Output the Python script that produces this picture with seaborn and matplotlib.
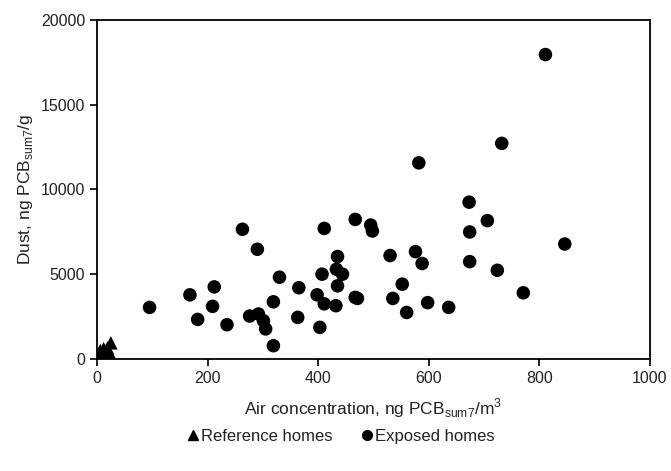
import pandas as pd
import numpy as np
import seaborn as sns
import matplotlib.pyplot as plt

# exposed homes (air ng/m3, dust ng/g)
exp_air = [95, 168, 182, 212, 209, 235, 263, 290, 276, 292, 301, 305, 319, 319, 330,
           363, 365, 398, 403, 407, 411, 411, 432, 435, 435, 433, 444, 467, 471, 467,
           495, 498, 530, 535, 552, 560, 576, 582, 588, 598, 636, 673, 706, 674, 674,
           724, 732, 771, 811, 846]
exp_dust = [3040, 3780, 2330, 4250, 3100, 2020, 7650, 6470, 2530, 2650, 2250, 1770, 780, 3370, 4820,
            2450, 4200, 3780, 1860, 5000, 7700, 3250, 3140, 4310, 6040, 5290, 5000, 3630, 3570, 8230,
            7900, 7550, 6100, 3570, 4410, 2740, 6330, 11570, 5630, 3320, 3040, 9250, 8160, 7490, 5740,
            5230, 12720, 3900, 17960, 6780]

# reference homes
ref_air = [2, 3, 5, 6, 8, 10, 12, 14, 15, 17, 19, 22, 25]
ref_dust = [100, 300, 150, 500, 250, 350, 600, 200, 450, 300, 650, 400, 950]

df = pd.DataFrame({
    'air': ref_air + exp_air,
    'dust': ref_dust + exp_dust,
    'group': ['Reference homes'] * len(ref_air) + ['Exposed homes'] * len(exp_air),
})

sns.set_style('white')
plt.rcParams['font.family'] = ['Liberation Sans', 'DejaVu Sans']
txt = '#222222'

fig = plt.figure(figsize=(6.71, 4.71), dpi=100)
ax = fig.add_axes([0.1446, 0.238, 0.824, 0.7195])

sns.scatterplot(data=df, x='air', y='dust', style='group',
                markers={'Reference homes': '^', 'Exposed homes': 'o'},
                color='black', s=95, edgecolor='none', linewidth=0,
                ax=ax, legend=False)

ax.set_xlim(0, 1000)
ax.set_ylim(0, 20000)
ax.set_xticks([0, 200, 400, 600, 800, 1000])
ax.set_yticks([0, 5000, 10000, 15000, 20000])
ax.tick_params(axis='both', direction='out', length=5, width=1.2, colors='black',
               labelcolor=txt, labelsize=11.5, bottom=True, left=True)
for s in ax.spines.values():
    s.set_color('black')
    s.set_linewidth(1.3)

ax.set_xlabel('Air concentration, ng PCB$_{\\mathregular{sum7}}$/m$^{\\mathregular{3}}$',
              fontsize=12.5, color=txt, labelpad=8)
ax.set_ylabel('Dust, ng PCB$_{\\mathregular{sum7}}$/g', fontsize=12.5, color=txt, labelpad=4)

h1 = plt.Line2D([], [], marker='^', color='black', linestyle='none', markersize=7)
h2 = plt.Line2D([], [], marker='o', color='black', linestyle='none', markersize=7)
fig.legend([h1, h2], ['Reference homes', 'Exposed homes'], loc='center',
           bbox_to_anchor=(0.507, 0.074), ncol=2, frameon=False, fontsize=12,
           handletextpad=0.05, columnspacing=1.6, handlelength=0.9, labelcolor=txt)

fig.savefig('out.png', dpi=100)
